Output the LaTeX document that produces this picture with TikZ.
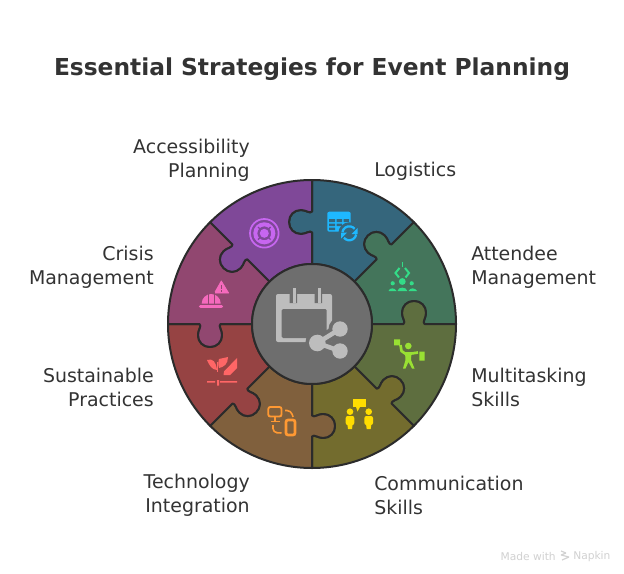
\documentclass[tikz,border=0pt]{standalone}
\usepackage{fontspec}
\setmainfont{DejaVu Sans}
\definecolor{cteal}{HTML}{35667C}
\definecolor{cgreen}{HTML}{44755B}
\definecolor{colg}{HTML}{5E6E3F}
\definecolor{colive}{HTML}{736C2E}
\definecolor{cbrown}{HTML}{80603D}
\definecolor{cred}{HTML}{964343}
\definecolor{cmag}{HTML}{914770}
\definecolor{cpur}{HTML}{7F4898}
\definecolor{ccen}{HTML}{6E6E6E}
\definecolor{cline}{HTML}{2B2B2B}
\definecolor{ctext}{HTML}{333333}
\definecolor{icpur}{HTML}{C766F0}
\definecolor{icpink}{HTML}{F56ABD}
\definecolor{icred}{HTML}{FF6666}
\definecolor{icora}{HTML}{FF9933}
\definecolor{icyel}{HTML}{FFDD00}
\definecolor{iclim}{HTML}{99E033}
\definecolor{icmin}{HTML}{33DD88}
\definecolor{iccya}{HTML}{1EB8FF}
\definecolor{iccen}{HTML}{BDBDBD}
\newcommand{\bumpOut}[1]{-- ([rotate=#1]91.5,0) .. controls ([rotate=#1]94,2) and ([rotate=#1]90,6) .. ([rotate=#1]90,11) .. controls ([rotate=#1]90,18) and ([rotate=#1]95,23) .. ([rotate=#1]102,23) .. controls ([rotate=#1]109,23) and ([rotate=#1]114,18) .. ([rotate=#1]114,11) .. controls ([rotate=#1]114,6) and ([rotate=#1]110,2) .. ([rotate=#1]112.5,0)}
\newcommand{\bumpIn}[1]{-- ([rotate=#1]112.5,0) .. controls ([rotate=#1]110,2) and ([rotate=#1]114,6) .. ([rotate=#1]114,11) .. controls ([rotate=#1]114,18) and ([rotate=#1]109,23) .. ([rotate=#1]102,23) .. controls ([rotate=#1]95,23) and ([rotate=#1]90,18) .. ([rotate=#1]90,11) .. controls ([rotate=#1]90,6) and ([rotate=#1]94,2) .. ([rotate=#1]91.5,0)}
\tikzset{
  piece/.style={draw=cline,line width=1.5pt,line join=round},
  lab/.style={font=\fontsize{14.2pt}{18pt}\selectfont,text=ctext,inner sep=0pt},
  labr/.style={lab,align=right,anchor=east},
  labl/.style={lab,align=left,anchor=west},
}
\begin{document}
\begin{tikzpicture}[x=.75pt,y=-.75pt]
\useasboundingbox (0,0) rectangle (624,574);
\fill[white] (0,0) rectangle (624,574);
\node[font=\bfseries\fontsize{17.5pt}{20pt}\selectfont,text=ctext,inner sep=0pt] (title) at (312,69) {Essential Strategies for Event Planning};
% puzzle ring
\begin{scope}[shift={(312,324)},y=.75pt]
\foreach \a/\b/\c in {45/90/cteal,0/45/cgreen,-45/0/colg,-90/-45/colive,-135/-90/cbrown,-180/-135/cred,135/180/cmag,90/135/cpur}{
  \path[piece,fill=\c] (\a:60) \bumpOut{\a} -- (\a:144) arc[start angle=\a,end angle=\b,radius=144] \bumpIn{\b} -- (\b:60) arc[start angle=\b,end angle=\a,radius=60] -- cycle;
}
\path[piece,fill=ccen] (0,0) circle[radius=60];
\end{scope}
% labels
\node[labr] (access) at (250,160) {Accessibility\\Planning};
\node[labl] (logi) at (374,171.5) {Logistics};
\node[labl] (atten) at (471,267.5) {Attendee\\Management};
\node[labl] (multi) at (471,387.5) {Multitasking\\Skills};
\node[labl] (comm) at (374,495.5) {Communication\\Skills};
\node[labr] (tech) at (250,495.5) {Technology\\Integration};
\node[labr] (sust) at (154,387.5) {Sustainable\\Practices};
\node[labr] (crisis) at (154,267.5) {Crisis\\Management};
% centre icon: calendar
\fill[iccen,rounded corners=1.5pt] (276,294) rectangle (332,342);
\fill[ccen,rounded corners=1pt] (281.7,309) rectangle (326.7,338);
\fill[ccen] (289.5,294) rectangle (297,303) (314.5,294) rectangle (322,303);
\fill[iccen] (292.5,288) rectangle (296,303);
\fill[iccen] (317.5,288) rectangle (321,303);
\begin{scope}[line cap=round]
\draw[ccen,line width=9pt] (317,343) -- (340,329) (317,343) -- (340,351);
\fill[ccen] (317.3,343) circle[radius=12] (340,329) circle[radius=11.5] (340,351) circle[radius=11.5];
\draw[iccen,line width=3.4pt] (317.3,343) -- (340,329) (317.3,343) -- (340,351);
\fill[iccen] (317.3,343) circle[radius=8.3] (340,329) circle[radius=7.7] (340,351) circle[radius=7.7];
\end{scope}
% purple icon
\draw[icpur,line width=1.3pt] (264.3,233.3) circle[radius=14.3];
\draw[icpur,line width=3pt] (264.3,233.3) circle[radius=9];
\draw[cpur,line width=1pt] (258,227) -- (261.5,230.5) (270.6,227) -- (267.1,230.5) (258,239.6) -- (261.5,236.1) (270.6,239.6) -- (267.1,236.1);
\fill[icpur] (264.3,233.3) circle[radius=4.5];
% pink icon
\fill[icpink,line join=round,draw=icpink,line width=.6pt] (221.3,281) -- (214.5,293) -- (228.6,293) -- cycle;
\draw[cmag,line width=1pt] (221.3,285) -- (221.3,289.3) (221.3,290.4) -- (221.3,291.6);
\fill[icpink] (201.7,303.5) arc[start angle=180,end angle=360,radius=9.5] -- cycle;
\draw[cmag,line width=.8pt] (208.3,292) -- (208.3,303.5) (214.5,292) -- (214.5,303.5);
\draw[icpink,line width=2.3pt,line cap=round] (200.5,306.7) -- (221.5,306.7);
% cyan icon
\fill[iccya,rounded corners=1.5pt] (327.3,211.7) rectangle (350.7,231.7);
\fill[cteal] (329,219) rectangle (335,222) (336.5,219) rectangle (342,222) (343.5,219) rectangle (349,222)
 (329,223.5) rectangle (335,226) (336.5,223.5) rectangle (342,226) (329,227.5) rectangle (335,230);
\fill[cteal] (349.3,233.3) circle[radius=11];
\draw[iccya,line width=1.7pt] (342.4,232.1) arc[start angle=190,end angle=320,radius=7];
\draw[iccya,line width=1.7pt] (356.2,234.5) arc[start angle=10,end angle=140,radius=7];
\fill[iccya] (357.5,228) -- (357.5,234) -- (351.5,234) -- cycle;
\fill[iccya] (341,238.5) -- (341,232.5) -- (347,232.5) -- cycle;
% mint icon
\draw[icmin,line width=1pt,dash pattern=on 4pt off 1pt] (402.3,262) -- (402.3,267);
\draw[icmin,line width=1.5pt] (399.5,268) -- (395.5,273) -- (399,277.5) (405,268) -- (409,273) -- (405.5,277.5);
\fill[icmin] (402.3,281.5) circle[radius=3.4] (392.7,283.3) circle[radius=2.1] (411.7,283.3) circle[radius=2.1];
\fill[icmin] (397.5,291) .. controls (398,286.5) and (406.5,286.5) .. (407.3,291) -- cycle;
\fill[icmin] (388.5,291) .. controls (389.5,287.5) and (395,287.5) .. (396.5,291) -- cycle;
\fill[icmin] (408.5,291) .. controls (410,287.5) and (415,287.5) .. (417,291) -- cycle;
% lime icon
\fill[iclim] (394,339.3) rectangle (400,345.3) (419.3,351.7) rectangle (424.7,360.7);
\fill[iclim] (408.3,346) circle[radius=3.3];
\draw[iclim,line width=2pt,line join=round] (400.5,345) -- (401.5,351) -- (405,353.5) -- (411.5,353.5) -- (418,352.5);
\fill[iclim] (405,352.5) -- (411.5,352.5) -- (411,360) -- (414.5,368.5) -- (412,368.5) -- (408.5,362) -- (405.5,368.5) -- (403,368.5) -- (405.5,360) -- cycle;
% yellow icon
\fill[icyel] (353,399.3) rectangle (365.7,407.3);
\fill[icyel] (356,407) -- (360,407) -- (357.5,411.5) -- cycle;
\fill[icyel] (350,411.7) circle[radius=3.3] (368.7,411.7) circle[radius=3.3];
\foreach \p in {350,368.7}{
  \fill[icyel,rounded corners=1.5pt] (\p-4.3,416) rectangle (\p+4.3,425);
  \fill[icyel] (\p-2.7,424) -- (\p+2.7,424) -- (\p+2,429) -- (\p-2,429) -- cycle;
}
% orange icon
\draw[icora,line width=1.4pt,rounded corners=1.5pt] (268.3,407) rectangle (281.5,416.5);
\draw[icora,line width=1.4pt] (275,416.5) -- (275,421) (271,421.5) -- (279.5,421.5);
\draw[icora,line width=2pt,rounded corners=1.5pt] (286,420) rectangle (295,435);
\draw[icora,line width=1.2pt,rounded corners=3pt] (285,410.5) -- (291,410.5) -- (293,417);
\draw[icora,line width=1.2pt,rounded corners=3pt] (273,425) -- (273,432.5) -- (281.5,433);
% red icon
\fill[icred] (207,360) .. controls (213,358) and (216,362) .. (217,370) .. controls (212,370) and (209,365) .. (207,360) -- cycle;
\fill[icred] (219,359) -- (228,357) .. controls (228,364) and (224,367) .. (219,368) .. controls (218,364) and (218,362) .. (219,359) -- cycle;
\draw[icred,line width=1pt] (217.5,362) -- (217.5,372);
\fill[icred] (224,371.5) -- (237,358) -- (237,368) -- (230,375) -- (223.5,375) -- cycle;
\fill[icred] (207,381) rectangle (215,382.7) (220,381) rectangle (237,382.7) (217,380) rectangle (219,385.5);
% footer
\node[font=\fontsize{8pt}{10pt}\selectfont,text=black!18,inner sep=0pt,anchor=east] (made) at (556,556.5) {Made with};
\draw[black!18,line width=.9pt,line join=bevel] (561,551) -- (566,553) -- (561,555) -- (569,557) -- (562,560);
\node[font=\fontsize{8pt}{10pt}\selectfont,text=black!18,inner sep=0pt,anchor=west] (napkin) at (573,556.5) {Napkin};
\end{tikzpicture}
\end{document}
